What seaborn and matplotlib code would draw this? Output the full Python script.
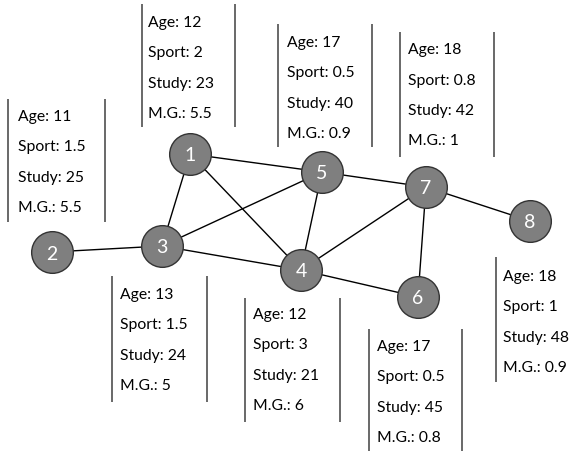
import pandas as pd
import numpy as np
import seaborn as sns
import matplotlib.pyplot as plt

# network data
nodes = [1, 2, 3, 4, 5, 6, 7, 8]
age = [12, 11, 13, 12, 17, 17, 18, 18]
sport = ['2', '1.5', '1.5', '3', '0.5', '0.5', '0.8', '1']
study = [23, 25, 24, 21, 40, 45, 42, 48]
mg = ['5.5', '5.5', '5', '6', '0.9', '0.8', '1', '0.9']
edges = [(1, 5), (1, 3), (1, 4), (2, 3), (3, 5), (3, 4), (5, 4), (5, 7),
         (4, 7), (4, 6), (7, 6), (7, 8)]

# layout (pixel coordinates of the picture)
node_x = [190, 52, 162, 301, 322, 418, 426, 530]
node_y = [155, 253, 247, 271, 173, 298, 188, 222]
text_x = [148, 18, 120, 253, 287, 377, 408, 503]
text_y = [23, 117, 295, 315, 43, 347, 50, 277]
bar_left = [142, 8, 112, 245, 278, 369, 400, 496]
bar_right = [235, 105, 207, 340, 372, 462, 494, np.nan]
bar_top = [5, 100, 277, 299, 25, 330, 33, 258]
bar_bottom = [128, 223, 403, 423, 148, 452, 158, 383]
line_gap = 30.5

sns.set_style('white')
plt.rcParams['font.family'] = ['Lato', 'DejaVu Sans']

fig = plt.figure(figsize=(5.79, 4.52), dpi=100)
ax = fig.add_axes([0, 0, 1, 1])

pos = dict(zip(nodes, zip(node_x, node_y)))
rows = []
for i, (a, b) in enumerate(edges):
    rows.append({'edge': i, 'x': pos[a][0], 'y': pos[a][1]})
    rows.append({'edge': i, 'x': pos[b][0], 'y': pos[b][1]})
edge_df = pd.DataFrame(rows)
sns.lineplot(data=edge_df, x='x', y='y', units='edge', estimator=None, sort=False,
             color='black', linewidth=1, ax=ax, zorder=1)

node_df = pd.DataFrame({'node': nodes, 'x': node_x, 'y': node_y})
sns.scatterplot(data=node_df, x='x', y='y', s=900, color='#7f7f7f',
                edgecolor='#333333', linewidth=1, ax=ax, zorder=3)
for n, x, y in zip(nodes, node_x, node_y):
    ax.text(x, y + 1, str(n), color='white', fontsize=14, ha='center', va='center', zorder=4)

for i in range(len(nodes)):
    labels = ['Age: %d' % age[i], 'Sport: %s' % sport[i],
              'Study: %d' % study[i], 'M.G.: %s' % mg[i]]
    for k, lab in enumerate(labels):
        ax.text(text_x[i], text_y[i] + k * line_gap, lab, fontsize=11.3,
                ha='left', va='center', color='black')
    ax.vlines(bar_left[i], bar_top[i], bar_bottom[i], color='#404040', linewidth=1.1)
    if not np.isnan(bar_right[i]):
        ax.vlines(bar_right[i], bar_top[i], bar_bottom[i], color='#404040', linewidth=1.1)

ax.set_xlim(0, 579)
ax.set_ylim(452, 0)
ax.axis('off')
fig.savefig('out.png', dpi=100)
